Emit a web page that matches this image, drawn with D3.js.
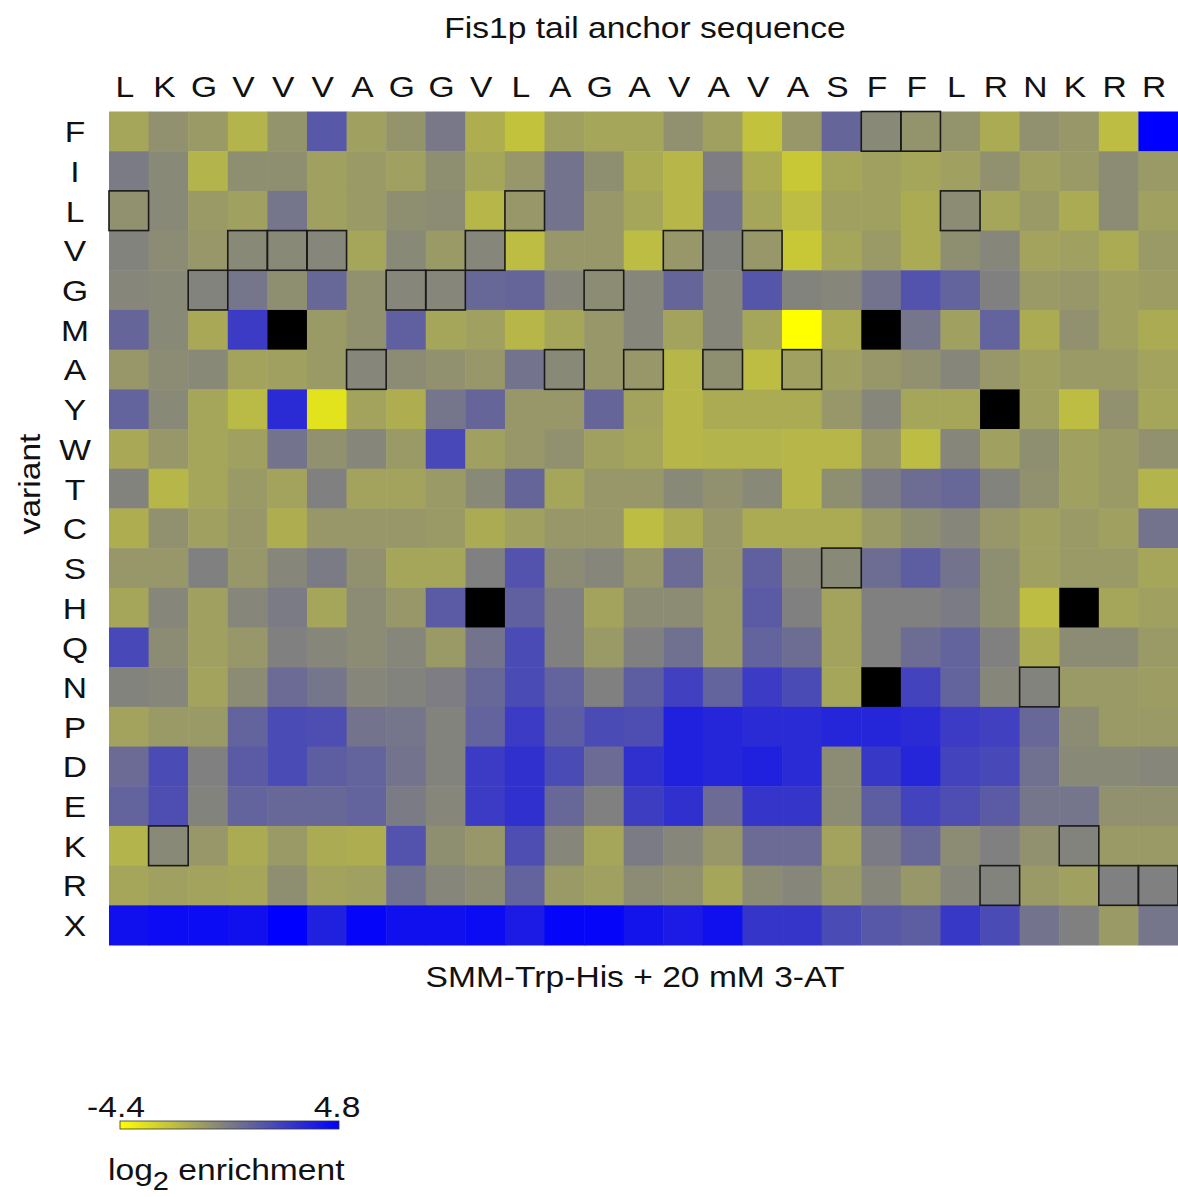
<!DOCTYPE html>
<html>
<head>
<meta charset="utf-8">
<script src="https://cdn.jsdelivr.net/npm/d3@7"></script>
<style>
  body { margin: 0; background: #fff; }
  text { font-family: "Liberation Sans", Arial, Helvetica, sans-serif; fill: #111; }
</style>
</head>
<body>
<div id="chart"></div>
<script>
const W = 1178, H = 1197
const GRID = { LEFT: 109, RIGHT: 1178, TOP: 111.5, BOTTOM: 945 }
const FONT = 30
const SX = 1.12 // glyphs in the source are a little wide

// wild-type sequence along the top
const sequence = ["L","K","G","V","V","V","A","G","G","V","L","A","G","A","V","A","V","A","S","F","F","L","R","N","K","R","R"]
// substituted residue, one row each ("X" = stop)
const variants = ["F","I","L","V","G","M","A","Y","W","T","C","S","H","Q","N","P","D","E","K","R","X"]

// log2 enrichment per variant row, one value per position; null = no data
const F = [-1.3,-0.6,-0.9,-1.8,-0.7,1.5,-1.1,-0.7,0.3,-1.6,-2.3,-1.1,-1.3,-1.3,-0.6,-1.1,-2.3,-0.8,1.0,-0.3,-0.7,-0.7,-1.5,-0.6,-0.8,-2.1,4.8]
const I = [0.2,-0.3,-1.8,-0.5,-0.5,-1.1,-0.9,-1.1,-0.5,-1.3,-0.8,0.5,-0.5,-1.5,-1.9,0.1,-1.5,-2.5,-1.3,-1.1,-1.3,-1.1,-0.6,-1.1,-0.9,-0.4,-0.9]
const L = [-0.6,-0.3,-0.9,-1.1,0.4,-1.1,-0.9,-0.5,-0.4,-1.9,-0.8,0.5,-0.8,-1.3,-1.9,0.5,-1.3,-2.1,-1.1,-1.1,-1.5,-0.4,-1.3,-0.9,-1.5,-0.4,-1.1]
const V = [-0.1,-0.4,-0.8,-0.3,-0.3,-0.2,-1.3,-0.3,-0.9,-0.2,-2.1,-0.8,-0.8,-2.1,-0.8,-0.1,-0.8,-2.5,-1.3,-0.9,-1.5,-0.5,-0.2,-1.2,-1.1,-1.5,-0.9]
const G = [-0.2,-0.3,-0.1,0.4,-0.5,0.9,-0.6,-0.2,-0.2,0.9,1.0,-0.2,-0.4,-0.2,1.0,-0.2,1.6,-0.1,-0.2,0.5,1.7,1.1,0,-0.9,-0.8,-1.1,-1.0]
const M = [1.0,-0.3,-1.4,2.6,null,-0.9,-0.6,1.2,-1.3,-1.1,-1.9,-1.3,-0.8,-0.2,-1.2,-0.2,-1.3,-4.4,-1.5,null,0.4,-1.1,1.1,-1.5,-0.6,-1.1,-1.5]
const A = [-0.8,-0.4,-0.3,-1.2,-1.1,-0.9,-0.2,-0.4,-0.6,-0.8,0.5,-0.3,-0.8,-0.8,-1.9,-0.5,-2.1,-1.1,-1.1,-0.8,-0.6,-0.2,-0.8,-1.1,-0.9,-0.9,-1.2]
const Y = [1.1,-0.3,-1.3,-2.0,3.2,-3.4,-1.2,-1.6,0.4,1.0,-0.8,-0.8,1.0,-1.2,-1.9,-1.5,-1.5,-1.5,-0.8,-0.2,-1.3,-1.3,null,-1.1,-2.1,-0.6,-1.3]
const Wt = [-1.4,-0.8,-1.3,-1.1,0.5,-0.6,-0.2,-0.9,2.1,-1.1,-0.8,-0.6,-1.1,-1.3,-1.9,-1.8,-1.8,-1.9,-1.9,-0.8,-2.1,-0.2,-1.1,-0.5,-1.1,-0.9,-0.6]
const T = [-0.1,-1.9,-1.3,-0.9,-1.2,0,-1.2,-1.2,-0.9,-0.3,1.0,-1.3,-0.8,-0.8,-0.3,-0.6,-0.3,-1.9,-0.5,0.2,0.7,0.9,-0.1,-0.6,-1.1,-0.9,-1.8]
const C = [-1.6,-0.6,-1.1,-0.8,-1.6,-0.8,-0.8,-0.8,-0.9,-1.5,-1.1,-0.8,-0.8,-2.1,-1.5,-0.8,-1.5,-1.5,-1.5,-0.9,-0.5,-0.2,-0.8,-1.1,-0.9,-1.1,0.5]
const S = [-0.8,-0.8,0,-0.8,-0.2,0.2,-0.6,-1.3,-1.3,0,1.7,-0.4,-0.2,-0.8,0.8,-0.8,1.2,-0.2,-0.3,0.7,1.3,0.5,-0.5,-1.1,-0.9,-0.9,-1.3]
const Hs = [-1.3,-0.2,-1.1,-0.2,0.2,-1.3,-0.4,-0.8,1.4,null,1.2,0,-1.2,-0.4,-0.4,-0.9,1.4,0,-1.2,0,0,0.2,-0.5,-2.1,null,-1.3,-1.1]
const Q = [2.1,-0.4,-1.1,-0.8,0,-0.2,-0.4,-0.2,-0.9,0.5,2.0,0,-0.9,0,0.6,-0.9,1.1,0.7,-1.2,0,0.7,1.1,0,-1.5,-0.4,-0.4,-0.9]
const N = [-0.1,-0.2,-1.2,-0.4,0.8,0.4,-0.2,-0.1,0.1,0.9,2.0,1.1,0,1.3,2.4,1.1,2.6,2.0,-1.3,null,2.3,1.1,-0.2,-0.1,-0.9,-0.9,-1.0]
const P = [-1.2,-0.9,-0.9,1.1,2.0,1.9,0.5,0.4,-0.1,1.1,2.6,1.3,2.0,1.9,3.6,3.4,3.2,3.2,3.4,3.4,3.2,2.6,2.4,0.9,-0.4,-0.9,-0.9]
const D = [0.8,2.0,0,1.4,2.0,1.3,1.1,0.5,-0.1,2.6,3.0,2.0,0.8,3.0,3.6,3.4,3.6,3.2,-0.4,2.7,3.4,2.3,2.1,0.6,-0.3,-0.3,-0.2]
const E = [1.1,1.9,-0.1,1.1,0.9,0.9,1.1,0.2,-0.2,2.6,3.0,0.9,0,2.5,3.0,0.8,2.8,2.8,-0.4,1.3,2.3,1.9,1.4,0.4,0.4,-0.6,-0.6]
const K = [-1.8,-0.3,-0.8,-1.5,-0.9,-1.5,-1.6,1.7,-0.5,-0.8,1.9,-0.2,-1.3,0.2,-0.2,-0.8,0.8,0.8,-1.2,0.2,0.9,-0.4,0,-0.6,-0.1,-0.9,-0.9]
const R = [-1.3,-1.1,-1.2,-1.3,-0.5,-1.2,-1.1,0.6,-0.2,-0.4,1.1,-0.9,-1.1,-0.4,-0.6,-1.3,-0.4,-0.2,-0.9,-0.2,-0.8,-0.2,-0.1,-0.9,-1.1,0,0]
const X = [4.2,4.4,4.4,4.2,4.8,3.6,4.6,4.2,4.2,4.4,3.8,4.6,4.6,4.1,3.8,4.2,2.8,2.8,2.0,1.5,1.3,2.7,2.0,0.5,0,-0.9,0.4]

const rows = [F, I, L, V, G, M, A, Y, Wt, T, C, S, Hs, Q, N, P, D, E, K, R, X]

const colorMin = -4.4, colorMax = 4.8

const svg = d3.select("#chart").append("svg")
    .attr("width", W)
    .attr("height", H)

const x = d3.scaleBand()
    .domain(d3.range(sequence.length))
    .range([GRID.LEFT, GRID.RIGHT])

const y = d3.scaleBand()
    .domain(variants)
    .range([GRID.TOP, GRID.BOTTOM])

const color = d3.scaleLinear()
    .domain([colorMin, 0, colorMax])
    .range(["#ffff00", "#808080", "#0000ff"])
    .clamp(true)

const cells = []
variants.forEach((v, r) => {
    rows[r].forEach((val, c) => {
        cells.push({ variant: v, col: c, value: val, wt: sequence[c] === v })
    })
})

// heatmap cells
svg.append("g")
    .selectAll("rect")
    .data(cells)
    .join("rect")
    .attr("x", d => x(d.col))
    .attr("y", d => y(d.variant))
    .attr("width", x.bandwidth() + 0.5)
    .attr("height", y.bandwidth() + 0.5)
    .attr("fill", d => d.value === null ? "#000" : color(d.value))

// outline the wild-type residue at each position
svg.append("g")
    .selectAll("rect")
    .data(cells.filter(d => d.wt))
    .join("rect")
    .attr("x", d => x(d.col))
    .attr("y", d => y(d.variant))
    .attr("width", x.bandwidth())
    .attr("height", y.bandwidth())
    .attr("fill", "none")
    .attr("stroke", "#1a1a1a")
    .attr("stroke-width", 1.6)

function label(parent, px, py, txt, anchor, size, extra) {
    return parent.append("text")
        .attr("transform", `translate(${px},${py}) ${extra || ""} scale(${SX},1)`)
        .attr("text-anchor", anchor)
        .attr("font-size", size || FONT)
        .text(txt)
}

// column letters
const colLabels = svg.append("g")
sequence.forEach((s, i) => {
    label(colLabels, x(i) + x.bandwidth() / 2 - 4, 97, s, "middle")
})

// row letters
const rowLabels = svg.append("g")
variants.forEach(v => {
    label(rowLabels, 75, y(v) + y.bandwidth() / 2 + 11, v, "middle")
})

label(svg, 645, 38, "Fis1p tail anchor sequence", "middle")
label(svg, 635, 987, "SMM-Trp-His + 20 mM 3-AT", "middle")
label(svg, 40, 484, "variant", "middle", FONT, "rotate(-90)")

// colour legend
const LEG = { X0: 120, X1: 339, Y: 1121, H: 8 }
const grad = svg.append("defs").append("linearGradient")
    .attr("id", "legend-grad")
grad.selectAll("stop")
    .data(d3.range(0, 1.0001, 0.05))
    .join("stop")
    .attr("offset", t => t)
    .attr("stop-color", t => color(colorMin + t * (colorMax - colorMin)))

const legendScale = d3.scaleLinear()
    .domain([colorMin, colorMax])
    .range([LEG.X0, LEG.X1])

svg.append("rect")
    .attr("x", LEG.X0)
    .attr("y", LEG.Y)
    .attr("width", LEG.X1 - LEG.X0)
    .attr("height", LEG.H)
    .attr("fill", "url(#legend-grad)")
    .attr("stroke", "#333")
    .attr("stroke-width", 0.8)

label(svg, legendScale(colorMin) - 4, 1117, "-4.4", "middle")
label(svg, legendScale(colorMax) - 2, 1117, "4.8", "middle")

const logText = svg.append("text")
    .attr("transform", `translate(108,1180) scale(${SX},1)`)
    .attr("font-size", FONT)
logText.append("tspan").text("log")
logText.append("tspan").attr("font-size", 26).attr("dy", 10).text("2")
logText.append("tspan").attr("dy", -10).text(" enrichment")
</script>
</body>
</html>
